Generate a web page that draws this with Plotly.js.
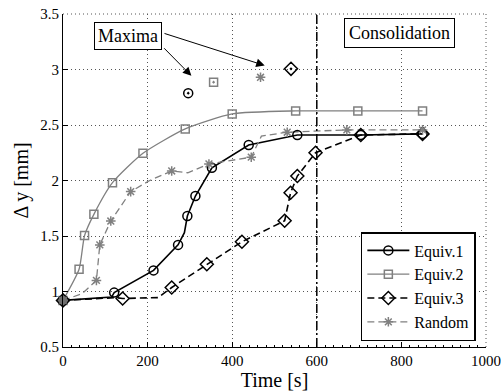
<!DOCTYPE html>
<html><head><meta charset="utf-8">
<script src="https://cdn.plot.ly/plotly-3.0.1.min.js"></script>
<style>html,body{margin:0;padding:0;background:#fff}#chart{width:501px;height:391px}</style>
</head><body><div id="chart"></div>
<script>
// ---- data ----
const seriesNames = ['Equiv.1', 'Equiv.2', 'Equiv.3', 'Random'];

// marker points
const eq1T = [0, 121, 214, 272, 294, 313, 352, 439, 554, 704, 850];
const eq1V = [0.92, 0.99, 1.19, 1.42, 1.68, 1.86, 2.115, 2.32, 2.41, 2.41, 2.42];
const eq2T = [0, 38, 51, 73, 117, 189, 289, 400, 550, 697, 850];
const eq2V = [0.92, 1.20, 1.505, 1.695, 1.98, 2.245, 2.465, 2.60, 2.627, 2.627, 2.627];
const eq3T = [0, 141, 257, 340, 423, 524, 538, 554, 597, 704, 850];
const eq3V = [0.92, 0.937, 1.036, 1.246, 1.448, 1.637, 1.89, 2.04, 2.25, 2.41, 2.42];
const rndT = [0, 79, 87, 113, 160, 257, 345, 445, 530, 671, 850];
const rndV = [0.92, 1.10, 1.42, 1.635, 1.90, 2.086, 2.149, 2.21, 2.435, 2.456, 2.456];

// extra (unmarked) points along the curves
const eq1ExtraT = [115, 287];
const eq1ExtraV = [0.95, 1.53];
const eq2ExtraT = [];
const eq2ExtraV = [];
const eq3ExtraT = [125, 225];
const eq3ExtraV = [0.945, 0.945];
const rndExtraT = [45, 205, 295, 469];
const rndExtraV = [0.98, 2.0, 2.07, 2.40];

// maxima (Equiv.1, Equiv.2, Equiv.3, Random)
const maxT = [296, 356, 539, 467];
const maxV = [2.787, 2.886, 3.006, 2.93];

const consolidationTime = 600;

// ---- styling ----
const BLACK = '#000000', GRAY = '#808080';
const FONT = '"Liberation Serif", "Times New Roman", Times, "DejaVu Serif", serif';
const styles = [
  {color: BLACK, dash: 'solid', width: 1.6, symbol: 'circle-open', maxSymbol: 'circle-open-dot', size: 9, shape: 'linear'},
  {color: GRAY, dash: 'solid', width: 1.3, symbol: 'square-open', maxSymbol: 'square-open-dot', size: 8, shape: 'spline'},
  {color: BLACK, dash: '7px,4px', width: 1.6, symbol: 'diamond-open', maxSymbol: 'diamond-open-dot', size: 10, shape: 'linear'},
  {color: GRAY, dash: '7px,4px', width: 1.3, symbol: 'asterisk-open', maxSymbol: 'asterisk-open', size: 8, shape: 'linear'}
];

const marks = [[eq1T, eq1V], [eq2T, eq2V], [eq3T, eq3V], [rndT, rndV]];
const extras = [[eq1ExtraT, eq1ExtraV], [eq2ExtraT, eq2ExtraV], [eq3ExtraT, eq3ExtraV], [rndExtraT, rndExtraV]];

function mergePath(mT, mV, eT, eV) {
  const pts = mT.map((t, i) => [t, mV[i]]).concat(eT.map((t, i) => [t, eV[i]]));
  pts.sort((a, b) => a[0] - b[0]);
  return [pts.map(p => p[0]), pts.map(p => p[1])];
}

const traces = [];
marks.forEach((m, i) => {
  const [px, py] = mergePath(m[0], m[1], extras[i][0], extras[i][1]);
  const s = styles[i];
  traces.push({x: px, y: py, mode: 'lines', showlegend: false, hoverinfo: 'skip',
    line: {color: s.color, width: s.width, dash: s.dash, shape: s.shape, smoothing: 0.6}});
});
marks.forEach((m, i) => {
  const s = styles[i];
  traces.push({x: m[0], y: m[1], mode: 'markers', showlegend: false, cliponaxis: false,
    marker: {symbol: s.symbol, size: s.size, color: s.color, line: {color: s.color, width: 1.5}}});
});
maxT.forEach((t, i) => {
  const s = styles[i];
  traces.push({x: [t], y: [maxV[i]], mode: 'markers', showlegend: false,
    marker: {symbol: s.maxSymbol, size: s.size, color: s.color, line: {color: s.color, width: 1.5}}});
});
traces.push({x: [eq1T[0]], y: [eq1V[0]], mode: 'markers', showlegend: false, cliponaxis: false,
  marker: {symbol: 'circle', size: 9, color: '#6e6e6e', line: {width: 0}}});
seriesNames.forEach((n, i) => {
  const s = styles[i];
  traces.push({x: [null], y: [null], name: n, mode: 'lines+markers', legendgroup: 'g' + i,
    line: {color: s.color, width: s.width, dash: s.dash},
    marker: {symbol: s.symbol, size: s.size, color: s.color, line: {color: s.color, width: 1.5}}});
});

const GRID = '#555';
const layout = {
  width: 501, height: 391,
  margin: {l: 63, r: 15, t: 14, b: 44},
  paper_bgcolor: '#fff', plot_bgcolor: '#fff',
  font: {family: FONT, size: 15, color: BLACK},
  showlegend: true,
  legend: {x: 0.976, xanchor: 'right', y: 0.018, yanchor: 'bottom',
    bgcolor: '#fff', bordercolor: BLACK, borderwidth: 1.5,
    font: {family: FONT, size: 16, color: BLACK}, itemwidth: 42, tracegroupgap: 0},
  xaxis: {range: [0, 1000], dtick: 200, tick0: 0, ticks: 'inside', ticklen: 5, tickcolor: BLACK,
    showline: true, linecolor: BLACK, linewidth: 1, zeroline: false,
    showgrid: true, gridcolor: GRID, griddash: '1px,3px', gridwidth: 1,
    minor: {dtick: 20, ticks: 'inside', ticklen: 2, tickcolor: BLACK, showgrid: false},
    tickfont: {family: FONT, size: 15, color: BLACK},
    title: {text: 'Time [s]', font: {family: FONT, size: 20, color: BLACK}, standoff: 0}},
  yaxis: {range: [0.5, 3.5], dtick: 0.5, tick0: 0.5, ticks: 'inside', ticklen: 5, tickcolor: BLACK,
    showline: true, linecolor: BLACK, linewidth: 1, zeroline: false,
    showgrid: true, gridcolor: GRID, griddash: '1px,3px', gridwidth: 1,
    tickfont: {family: FONT, size: 15, color: BLACK},
    title: {text: 'Δ y [mm]', font: {family: FONT, size: 20, color: BLACK}, standoff: 6}},
  shapes: [
    {type: 'line', xref: 'x', yref: 'paper', x0: consolidationTime, x1: consolidationTime, y0: 0, y1: 1,
     line: {color: BLACK, width: 1.5, dash: '9px,3px,2px,3px'}},
    {type: 'line', xref: 'paper', yref: 'paper', x0: 1, x1: 1, y0: 0, y1: 1,
     line: {color: GRID, width: 1, dash: '1px,3px'}},
    {type: 'line', xref: 'paper', yref: 'paper', x0: 0, x1: 1, y0: 1, y1: 1,
     line: {color: GRID, width: 1, dash: '1px,3px'}}
  ],
  annotations: [
    {x: 303.5, y: 2.943, ax: 235.7, ay: 3.205, xref: 'x', yref: 'y', axref: 'x', ayref: 'y',
     text: '', showarrow: true, arrowhead: 2, arrowsize: 1.7, arrowwidth: 1, arrowcolor: BLACK},
    {x: 476.8, y: 3.036, ax: 236.4, ay: 3.329, xref: 'x', yref: 'y', axref: 'x', ayref: 'y',
     text: '', showarrow: true, arrowhead: 2, arrowsize: 1.7, arrowwidth: 1, arrowcolor: BLACK},
    {x: 153, y: 3.306, xref: 'x', yref: 'y', text: 'Maxima', showarrow: false,
     font: {family: FONT, size: 18, color: BLACK}, bgcolor: '#fff', bordercolor: BLACK, borderwidth: 1, borderpad: 3},
    {x: 796, y: 3.33, xref: 'x', yref: 'y', text: 'Consolidation', showarrow: false,
     font: {family: FONT, size: 18, color: BLACK}, bgcolor: '#fff', bordercolor: BLACK, borderwidth: 1, borderpad: 4}
  ]
};

Plotly.newPlot('chart', traces, layout, {staticPlot: true, displayModeBar: false});
</script>
</body></html>
